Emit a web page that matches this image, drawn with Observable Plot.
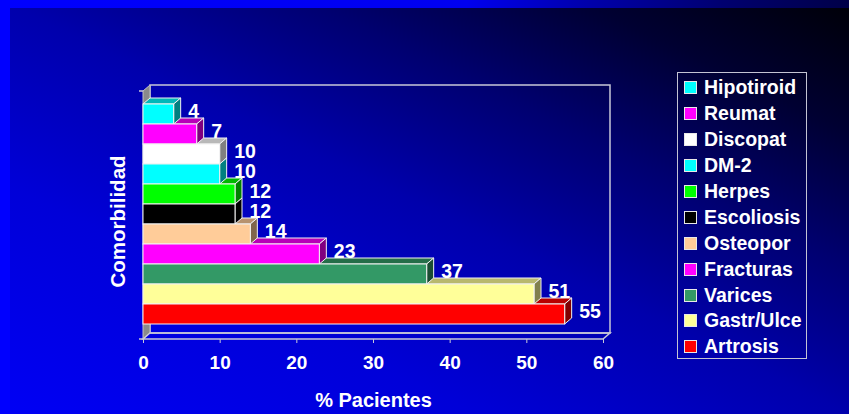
<!DOCTYPE html>
<html>
<head>
<meta charset="utf-8">
<script src="https://cdn.jsdelivr.net/npm/d3@7"></script>
<script src="https://cdn.jsdelivr.net/npm/@observablehq/plot@0.6"></script>
<style>
  html, body { margin: 0; padding: 0; }
  body { width: 849px; height: 414px; overflow: hidden; position: relative;
         font-family: "Liberation Sans", Arial, sans-serif; }
  #bg { position: absolute; inset: 0;
        background: linear-gradient(to top right, #0000f5 0%, #0000d8 28%, #0000ac 50%, #000070 68%, #000032 84%, #000006 100%); }
  #topband { position: absolute; left: 0; top: 0; width: 849px; height: 8px;
        background: linear-gradient(to right, #0000ff 0%, #0000f0 55%, #0000b0 68%, #000070 85%, #000048 100%); }
  #leftband { position: absolute; left: 0; top: 0; width: 10px; height: 414px; background: #0000ff; }
  #chart { position: absolute; left: 0; top: 0; }
  #legend { position: absolute; left: 677px; top: 72px; width: 130px; height: 287px;
            border: 1.5px solid #c4c4d4; box-sizing: border-box; padding-top: 2px; }
  .item { height: 25.9px; display: flex; align-items: center; padding-left: 6px;
          color: #fff; font-weight: bold; font-size: 19.5px; white-space: nowrap; }
  .sw { width: 11px; height: 11px; border: 1px solid #e8e8e8; margin-right: 7px; flex: none; }
</style>
</head>
<body>
<div id="bg"></div>
<div id="topband"></div>
<div id="leftband"></div>
<div id="chart"></div>
<div id="legend"></div>
<script>
// Comorbidities, listed top to bottom
const categories = ["Hipotiroid", "Reumat", "Discopat", "DM-2", "Herpes", "Escoliosis",
                    "Osteopor", "Fracturas", "Varices", "Gastr/Ulce", "Artrosis"];
// share of patients (%)
const values = [4, 7, 10, 10, 12, 12, 14, 23, 37, 51, 55];
const colors = ["#00ffff", "#ff00ff", "#ffffff", "#00ffff", "#00ff00", "#000000",
                "#ffcc99", "#ff00ff", "#339966", "#ffff99", "#ff0000"];
const xTicks = [0, 10, 20, 30, 40, 50, 60];
const xTitle = "% Pacientes";
const yTitle = "Comorbilidad";

const data = categories.map((name, i) => ({name, value: values[i], color: colors[i]}));

// depth of the 3-D extrusion, in pixels
const DX = 7, DY = -6;
const edge = "#f2f2f2";
const wall = "#c8c8d8";

function shade(c, k) {
  const r = d3.rgb(c);
  return d3.rgb(r.r * k, r.g * k, r.b * k).formatHex();
}

// Back wall, left wall and floor of the 3-D box
function box(index, scales, values, dims) {
  const L = dims.marginLeft, R = dims.width - dims.marginRight;
  const T = dims.marginTop, B = dims.height - dims.marginBottom;
  const g = d3.create("svg:g");
  g.append("rect").attr("x", L + DX).attr("y", T + DY).attr("width", R - L).attr("height", B - T)
    .attr("fill", "none").attr("stroke", wall).attr("stroke-width", 1.5);
  g.append("path").attr("d", `M${L},${T}L${L + DX},${T + DY}L${L + DX},${B + DY}L${L},${B}Z`)
    .attr("fill", "#8a8a8a").attr("stroke", "#c0c0c8").attr("stroke-width", 1);
  g.append("path").attr("d", `M${L},${B}L${L + DX},${B + DY}L${R + DX},${B + DY}L${R},${B}Z`)
    .attr("fill", "none").attr("stroke", wall).attr("stroke-width", 1.5);
  g.append("path").attr("d", `M${L - 4},${T}H${L}M${L - 4},${B}H${L}`)
    .attr("stroke", wall).attr("stroke-width", 1.5);
  return g.node();
}

// Top and side faces of every bar (the front faces are Plot bars)
function faces(index, scales) {
  const x = scales.x, y = scales.y;
  const bw = Math.abs(y(categories[1]) - y(categories[0]));
  const x0 = x(0);
  const g = d3.create("svg:g").attr("stroke", edge).attr("stroke-width", 1).attr("stroke-linejoin", "round");
  for (const d of data) {
    const x1 = x(d.value), yt = y(d.name);
    g.append("path").attr("d", `M${x0},${yt}L${x0 + DX},${yt + DY}L${x1 + DX},${yt + DY}L${x1},${yt}Z`)
      .attr("fill", shade(d.color, 0.72));
  }
  for (const d of data) {
    const x1 = x(d.value), yt = y(d.name);
    g.append("path").attr("d", `M${x1},${yt}L${x1 + DX},${yt + DY}L${x1 + DX},${yt + bw + DY}L${x1},${yt + bw}Z`)
      .attr("fill", shade(d.color, 0.5));
  }
  return g.node();
}

const chart = Plot.plot({
  width: 849,
  height: 414,
  marginLeft: 143,
  marginRight: 246,
  marginTop: 91,
  marginBottom: 75,
  style: {background: "transparent", overflow: "visible", fontFamily: "'Liberation Sans', Arial, sans-serif"},
  x: {domain: [0, 60]},
  y: {domain: categories, padding: 0, insetTop: 12, insetBottom: 15, axis: null},
  marks: [
    box,
    faces,
    Plot.barX(data, {x: "value", y: "name", fill: "color", stroke: edge, strokeWidth: 1}),
    Plot.text(data, {x: "value", y: "name", text: d => String(d.value), textAnchor: "start",
                     dx: 14, dy: -3, fill: "white", fontSize: 19.5, fontWeight: "bold"}),
    Plot.axisX(xTicks, {tickSize: 4, tickPadding: 12, stroke: wall, fill: "white",
                        fontSize: 19, fontWeight: "bold", label: null}),
    Plot.text([xTitle], {frameAnchor: "bottom", lineAnchor: "top", dy: 53, fill: "white",
                         fontSize: 20, fontWeight: "bold"}),
    Plot.text([yTitle], {frameAnchor: "left", textAnchor: "middle", rotate: -90, dx: -25, dy: 6,
                         fill: "white", fontSize: 20.5, fontWeight: "bold"})
  ]
});
document.getElementById("chart").append(chart);

// Legend, one row per comorbidity
const legend = d3.select("#legend");
for (const d of data) {
  const row = legend.append("div").attr("class", "item");
  row.append("div").attr("class", "sw").style("background", d.color);
  row.append("span").text(d.name);
}
</script>
</body>
</html>
